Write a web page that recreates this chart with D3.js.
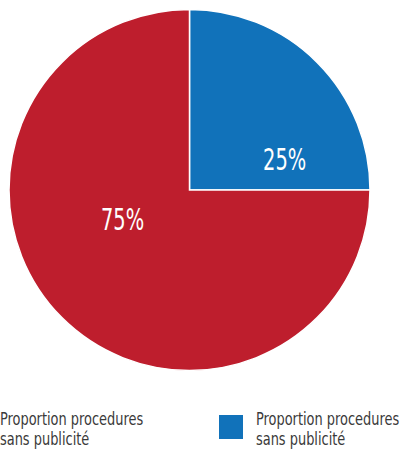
<!DOCTYPE html>
<html>
<head>
<meta charset="utf-8">
<script src="https://cdn.jsdelivr.net/npm/d3@7"></script>
<style>
  body { margin: 0; background: #fff; }
  svg { display: block; font-family: "DejaVu Sans Condensed", "DejaVu Sans", sans-serif; font-stretch: condensed; }
</style>
</head>
<body>
<svg id="chart"></svg>
<script>
const values = [25, 75];
const labels = ["25%", "75%"];
const colors = ["#1172ba", "#be1e2d"];
const legendNames = ["Proportion procedures sans publicité", "Proportion procedures sans publicité"];
const legendColors = ["#be1e2d", "#1172ba"];

const width = 403;
const height = 451;
const cx = 189.5, cy = 190, radius = 180.5;

const svg = d3.select("#chart")
    .attr("width", width)
    .attr("height", height);

const pie = d3.pie().sort(null).value(d => d);
const arc = d3.arc().innerRadius(0).outerRadius(radius);
const arcs = pie(values);

const g = svg.append("g").attr("transform", `translate(${cx},${cy})`);

g.selectAll("path")
    .data(arcs)
    .join("path")
    .attr("d", arc)
    .attr("fill", (d, i) => colors[i])
    .attr("stroke", "#fff")
    .attr("stroke-width", 1.5);

// label baseline offsets relative to radius (by eye from the original)
const labelOffsets = [[0.527, -0.111], [-0.371, 0.222]];

g.selectAll("text.lbl")
    .data(arcs)
    .join("text")
    .attr("class", "lbl")
    .attr("transform", (d, i) => `translate(${labelOffsets[i][0] * radius},${labelOffsets[i][1] * radius}) scale(0.72,1)`)
    .attr("text-anchor", "middle")
    .attr("fill", "#fff")
    .attr("font-size", 30)
    .text((d, i) => labels[i]);

// legend, first swatch sits off the left edge like the original
const legendX = [-37, 219];
const legend = svg.append("g")
    .selectAll("g")
    .data(legendNames)
    .join("g")
    .attr("transform", (d, i) => `translate(${legendX[i]},415)`);

legend.append("rect")
    .attr("width", 24)
    .attr("height", 24)
    .attr("fill", (d, i) => legendColors[i]);

legend.append("text")
    .attr("transform", "translate(37,0) scale(0.8,1)")
    .attr("fill", "#3a3a3a")
    .attr("font-size", 18)
    .selectAll("tspan")
    .data(d => ["Proportion procedures", "sans publicité"])
    .join("tspan")
    .attr("x", 0)
    .attr("y", (d, i) => 10 + i * 20)
    .text(d => d);
</script>
</body>
</html>
